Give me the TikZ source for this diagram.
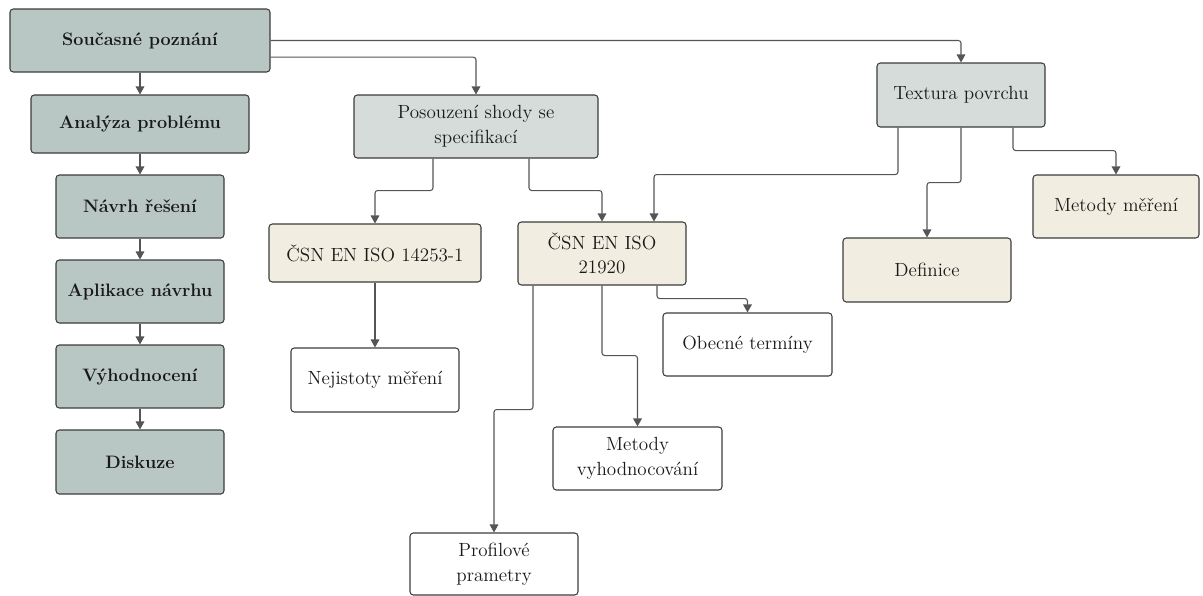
\documentclass[tikz,border=0pt]{standalone}
\usepackage{fontspec}
\usetikzlibrary{
	arrows.meta
}

\definecolor{krokfill}{HTML}{B8C6C4}
\definecolor{temafill}{HTML}{D5DCD9}
\definecolor{normafill}{HTML}{F1EDE0}
\definecolor{okraj}{HTML}{3C3C3C}
\definecolor{cara}{HTML}{555555}

\tikzset{
    box/.style={draw=okraj, line width=0.8pt, rounded corners=2.5pt, align=center, inner sep=0pt,
                text=black!90, font=\fontsize{14.3}{18.5}\selectfont, minimum height=47.25pt},
    krok/.style={box, fill=krokfill, font=\fontsize{13.5}{18.5}\selectfont\bfseries},
    tema/.style={box, fill=temafill},
    norma/.style={box, fill=normafill},
    list/.style={box, fill=white},
    spoj/.style={->, >={Triangle[length=6pt,width=6.5pt]}, draw=cara, line width=0.8pt, rounded corners=2pt}
}

\begin{document}
\begin{tikzpicture}[x=0.75pt,y=-0.75pt]
    % Definitions
    \useasboundingbox (0,0) rectangle (1203,596);
    % Steps
    \node[krok, minimum width=195pt] (sp) at (140,40.5) {Současné poznání};
    \node[krok, minimum width=163.5pt, minimum height=43.5pt] (ap) at (140,124) {Analýza problému};
    \node[krok, minimum width=126pt] (nr) at (140,206.5) {Návrh řešení};
    \node[krok, minimum width=126pt] (an) at (140,291.5) {Aplikace návrhu};
    \node[krok, minimum width=126pt] (vy) at (140,376.5) {Výhodnocení};
    \node[krok, minimum width=126pt, minimum height=48pt] (di) at (140,462) {Diskuze};
    % Topics
    \node[tema, minimum width=183pt] (ps) at (476,126.5) {Posouzení shody se\\specifikací};
    \node[tema, minimum width=126pt, minimum height=48pt] (tp) at (961,95) {Textura povrchu};
    % Standards
    \node[norma, minimum width=159pt, minimum height=43.5pt] (c14) at (375,253) {ČSN EN ISO 14253-1};
    \node[norma, minimum width=126pt] (c21) at (602,253.5) {ČSN EN ISO\\21920};
    \node[norma, minimum width=126pt, minimum height=48pt] (de) at (927,270) {Definice};
    \node[norma, minimum width=124.5pt] (mm) at (1116,206.5) {Metody měření};
    % Leaves
    \node[list, minimum width=126pt, minimum height=48pt] (nm) at (375,380) {Nejistoty měření};
    \node[list, minimum width=126.75pt] (ot) at (747.5,344.5) {Obecné termíny};
    \node[list, minimum width=126.75pt] (mv) at (637.5,458.5) {Metody\\vyhodnocování};
    \node[list, minimum width=126pt, minimum height=46.5pt] (pp) at (494,564) {Profilové\\prametry};
    % Left column
    \draw[spoj] (sp) -- (ap);
    \draw[spoj] (ap) -- (nr);
    \draw[spoj] (nr) -- (an);
    \draw[spoj] (an) -- (vy);
    \draw[spoj] (vy) -- (di);
    % From the top box
    \draw[spoj] (sp.east) -| (tp.north);
    \draw[spoj] ([yshift=-12.5pt]sp.east) -| (ps.north);
    % Conformity branch
    \draw[spoj] ([xshift=-32.25pt]ps.south) -- ++(0,32) -| (c14.north);
    \draw[spoj] ([xshift=39.75pt]ps.south) -- ++(0,32) -| (c21.north);
    \draw[spoj] (c14) -- (nm);
    % Texture branch
    \draw[spoj] ([xshift=-47.25pt]tp.south) -- ++(0,47) -| ([xshift=39pt]c21.north);
    \draw[spoj] (tp.south) -- ++(0,55) -| (de.north);
    \draw[spoj] ([xshift=39pt]tp.south) -- ++(0,23) -| (mm.north);
    % ISO 21920 parts
    \draw[spoj] ([xshift=-51.75pt]c21.south) -- ++(0,124) -| (pp.north);
    \draw[spoj] (c21.south) -- ++(0,70) -| (mv.north);
    \draw[spoj] ([xshift=41.25pt]c21.south) -- ++(0,13) -| (ot.north);
\end{tikzpicture}
\end{document}
